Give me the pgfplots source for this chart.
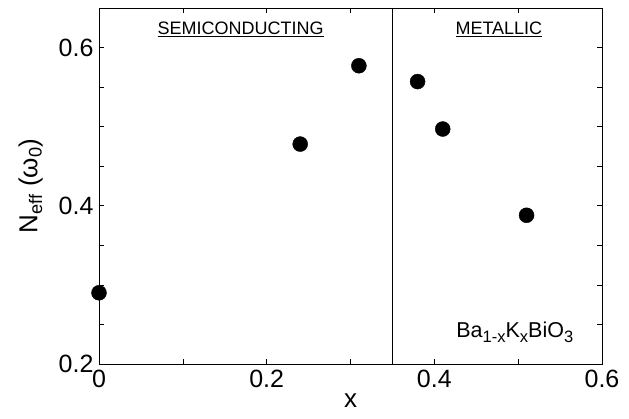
\documentclass[border=0pt]{standalone}
\usepackage{fontspec}
\setmainfont{Liberation Sans}
\usepackage{pgfplots}
\pgfplotsset{compat=1.18}
\begin{document}
\begin{tikzpicture}
\begin{axis}[
  scale only axis, width=503pt, height=356pt,
  xmin=0, xmax=0.6, ymin=0.2, ymax=0.65,
  xtick={0,0.2,0.4,0.6}, xticklabels={0,0.2,0.4,0.6},
  minor xtick={0.1,0.3,0.5},
  ytick={0.2,0.4,0.6}, yticklabels={0.2,0.4,0.6},
  minor ytick={0.25,0.3,0.35,0.45,0.5,0.55},
  tick align=inside, major tick length=5pt, minor tick length=5pt,
  tick style={black, line width=0.6pt},
  axis line style={line width=0.8pt},
  tick label style={font=\fontsize{25}{28}\selectfont},
  xticklabel style={yshift=-3pt},
  yticklabel style={xshift=-2pt},
  xlabel={x}, ylabel={N\textsubscript{eff} (ω\textsubscript{0})},
  label style={font=\fontsize{26}{30}\selectfont},
  xlabel style={yshift=-1pt, inner sep=1pt},
  ylabel style={yshift=9pt},
  clip=false,
]
\addplot[black, line width=0.6pt] coordinates {(0.35,0.2) (0.35,0.65)};
\addplot[only marks, mark=*, mark size=7.5pt, black] coordinates {
  (0,0.29) (0.24,0.478) (0.31,0.577) (0.38,0.557) (0.41,0.497) (0.51,0.388)
};
\node[font=\fontsize{18}{20}\selectfont] at (axis cs:0.169,0.623) {\underline{SEMICONDUCTING}};
\node[font=\fontsize{18}{20}\selectfont] at (axis cs:0.477,0.623) {\underline{METALLIC}};
\node[font=\fontsize{21.5}{24}\selectfont] at (axis cs:0.496,0.240) {Ba{\fontsize{16.5}{18}\selectfont\raisebox{-0.3em}{1-x}}K{\fontsize{16.5}{18}\selectfont\raisebox{-0.3em}{x}}BiO{\fontsize{16.5}{18}\selectfont\raisebox{-0.3em}{3}}};
\end{axis}
\path (current axis.south west) ++(-99pt,-55pt) coordinate (bl);
\path (current axis.north east) ++(27pt,8pt) coordinate (tr);
\path[use as bounding box] (bl) rectangle (tr);
\end{tikzpicture}
\end{document}
